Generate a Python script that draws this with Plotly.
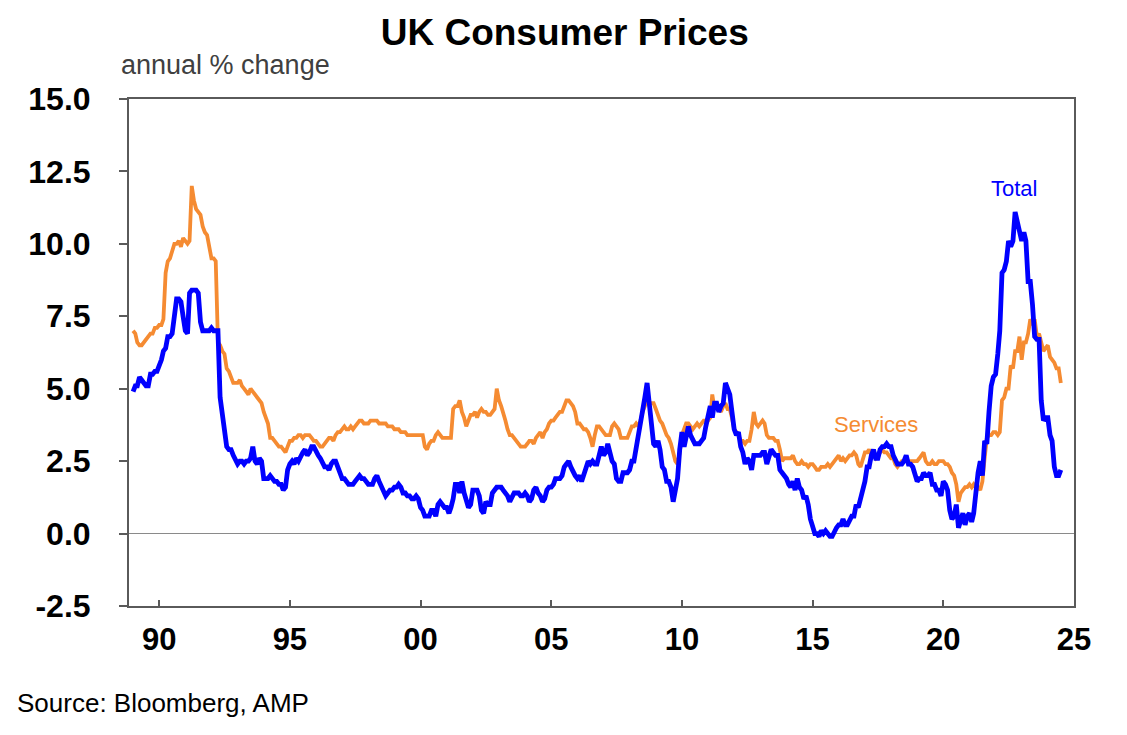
import pandas as pd
import plotly.graph_objects as go

# Monthly annual % change, Jan 1989 .. Jul 2024
total = [
    4.9, 5.1, 5.1, 5.4, 5.3, 5.2, 5.1, 5.1, 5.5, 5.5, 5.6, 5.6,   # 1989
    5.8, 6.0, 6.3, 6.4, 6.8, 6.8, 6.9, 7.6, 8.1, 8.1, 8.0, 7.5,   # 1990
    7.0, 6.9, 8.3, 8.4, 8.4, 8.4, 8.3, 7.3, 7.0, 7.0, 7.0, 7.0,   # 1991
    7.1, 7.0, 7.0, 7.0, 4.7, 4.0, 3.5, 3.0, 2.9, 2.9, 2.7, 2.5,   # 1992
    2.4, 2.5, 2.5, 2.4, 2.5, 2.5, 2.6, 3.0, 2.5, 2.4, 2.6, 2.5,   # 1993
    1.9, 1.9, 1.9, 2.0, 1.9, 1.8, 1.8, 1.7, 1.7, 1.5, 1.6, 2.2,   # 1994
    2.4, 2.5, 2.4, 2.6, 2.5, 2.7, 2.8, 2.9, 2.7, 2.8, 3.0, 3.0,   # 1995
    2.8, 2.7, 2.6, 2.4, 2.3, 2.3, 2.2, 2.4, 2.5, 2.5, 2.3, 2.2,   # 1996
    1.9, 1.9, 1.8, 1.7, 1.7, 1.7, 1.8, 1.9, 2.0, 1.9, 1.9, 1.8,   # 1997
    1.7, 1.7, 1.7, 1.9, 2.0, 1.8, 1.6, 1.4, 1.3, 1.4, 1.5, 1.5,   # 1998
    1.6, 1.6, 1.7, 1.6, 1.4, 1.4, 1.3, 1.3, 1.2, 1.2, 1.3, 1.2,   # 1999
    0.9, 0.8, 0.6, 0.6, 0.6, 0.8, 0.8, 0.6, 1.0, 1.1, 1.0, 0.9,   # 2000
    0.9, 0.7, 0.9, 1.2, 1.7, 1.7, 1.4, 1.8, 1.4, 1.2, 0.9, 1.0,   # 2001
    1.5, 1.5, 1.5, 1.3, 0.8, 0.7, 1.1, 1.0, 1.0, 1.4, 1.5, 1.6,   # 2002
    1.6, 1.6, 1.5, 1.4, 1.3, 1.1, 1.3, 1.4, 1.4, 1.4, 1.3, 1.3,   # 2003
    1.4, 1.3, 1.1, 1.2, 1.5, 1.6, 1.4, 1.3, 1.1, 1.2, 1.5, 1.6,   # 2004
    1.6, 1.7, 1.9, 1.9, 1.9, 2.0, 2.3, 2.4, 2.5, 2.3, 2.1, 2.0,   # 2005
    1.9, 2.0, 1.8, 2.0, 2.2, 2.5, 2.4, 2.5, 2.4, 2.4, 2.7, 3.0,   # 2006
    2.7, 2.8, 3.1, 2.8, 2.5, 2.4, 1.9, 1.8, 1.8, 2.1, 2.1, 2.1,   # 2007
    2.2, 2.5, 2.5, 3.0, 3.3, 3.8, 4.4, 4.7, 5.2, 4.5, 4.1, 3.1,   # 2008
    3.0, 3.2, 2.9, 2.3, 2.2, 1.8, 1.8, 1.6, 1.1, 1.5, 1.9, 2.9,   # 2009
    3.5, 3.0, 3.4, 3.7, 3.4, 3.2, 3.1, 3.1, 3.1, 3.2, 3.3, 3.7,   # 2010
    4.0, 4.4, 4.0, 4.5, 4.5, 4.2, 4.4, 4.5, 5.2, 5.0, 4.8, 4.2,   # 2011
    3.6, 3.4, 3.5, 3.0, 2.8, 2.4, 2.6, 2.5, 2.2, 2.7, 2.7, 2.7,   # 2012
    2.7, 2.8, 2.8, 2.4, 2.7, 2.9, 2.8, 2.7, 2.7, 2.2, 2.1, 2.0,   # 2013
    1.9, 1.7, 1.6, 1.8, 1.5, 1.9, 1.6, 1.5, 1.2, 1.3, 1.0, 0.5,   # 2014
    0.3, 0.0, 0.0, -0.1, 0.1, 0.0, 0.1, 0.0, -0.1, -0.1, 0.1, 0.2,  # 2015
    0.3, 0.3, 0.5, 0.3, 0.3, 0.5, 0.6, 0.6, 1.0, 0.9, 1.2, 1.6,   # 2016
    1.8, 2.3, 2.3, 2.7, 2.9, 2.6, 2.6, 2.9, 3.0, 3.0, 3.1, 3.0,   # 2017
    3.0, 2.7, 2.5, 2.4, 2.4, 2.4, 2.5, 2.7, 2.4, 2.4, 2.3, 2.1,   # 2018
    1.8, 1.9, 1.9, 2.1, 2.0, 2.0, 2.1, 1.7, 1.7, 1.5, 1.5, 1.3,   # 2019
    1.8, 1.7, 1.5, 0.8, 0.5, 0.6, 1.0, 0.2, 0.5, 0.7, 0.3, 0.6,   # 2020
    0.7, 0.4, 0.7, 1.5, 2.1, 2.5, 2.0, 3.2, 3.1, 4.2, 5.1, 5.4,   # 2021
    5.5, 6.2, 7.0, 9.0, 9.1, 9.4, 10.1, 9.9, 10.1, 11.1, 10.7, 10.5,  # 2022
    10.1, 10.4, 10.1, 8.7, 8.7, 7.9, 6.8, 6.7, 6.7, 4.6, 3.9, 4.0,   # 2023
    4.0, 3.4, 3.2, 2.3, 2.0, 2.0, 2.2,                           # 2024
]

services = [
    7.0, 6.9, 6.6, 6.5, 6.5, 6.6, 6.7, 6.8, 6.9, 6.9, 7.1, 7.1,   # 1989
    7.2, 7.2, 7.4, 9.0, 9.4, 9.5, 9.8, 10.0, 10.0, 10.1, 9.9, 10.2,  # 1990
    10.1, 10.0, 10.1, 12.0, 11.5, 11.2, 11.1, 11.0, 10.6, 10.4, 10.3, 9.9,  # 1991
    9.5, 9.5, 9.4, 6.6, 6.5, 6.3, 6.2, 5.7, 5.6, 5.4, 5.2, 5.2,   # 1992
    5.2, 5.3, 5.1, 5.0, 4.9, 4.8, 5.0, 4.9, 4.8, 4.7, 4.6, 4.5,   # 1993
    4.2, 4.0, 3.8, 3.3, 3.3, 3.2, 3.1, 3.0, 3.0, 2.9, 2.8, 3.0,   # 1994
    3.2, 3.2, 3.3, 3.3, 3.4, 3.4, 3.3, 3.4, 3.4, 3.4, 3.3, 3.2,   # 1995
    3.2, 3.1, 3.0, 3.0, 3.1, 3.2, 3.3, 3.3, 3.2, 3.4, 3.5, 3.5,   # 1996
    3.6, 3.7, 3.6, 3.6, 3.7, 3.6, 3.7, 3.8, 3.9, 3.9, 3.8, 3.8,   # 1997
    3.8, 3.9, 3.9, 3.9, 3.9, 3.8, 3.8, 3.8, 3.8, 3.7, 3.7, 3.7,   # 1998
    3.6, 3.6, 3.6, 3.5, 3.5, 3.5, 3.4, 3.4, 3.4, 3.4, 3.4, 3.4,   # 1999
    3.4, 3.4, 3.0, 2.9, 3.1, 3.2, 3.2, 3.4, 3.5, 3.4, 3.3, 3.3,   # 2000
    3.3, 3.3, 3.3, 4.3, 4.4, 4.4, 4.6, 4.2, 4.0, 3.7, 3.9, 4.1,   # 2001
    4.1, 4.2, 4.0, 4.2, 4.3, 4.2, 4.2, 4.1, 4.1, 4.2, 4.3, 5.0,   # 2002
    4.6, 4.4, 4.2, 3.9, 3.6, 3.4, 3.4, 3.3, 3.2, 3.1, 3.0, 3.0,   # 2003
    3.0, 3.1, 3.2, 3.2, 3.1, 3.3, 3.4, 3.5, 3.3, 3.5, 3.6, 3.8,   # 2004
    3.9, 3.9, 4.0, 4.1, 4.2, 4.2, 4.4, 4.6, 4.6, 4.5, 4.4, 4.2,   # 2005
    3.8, 3.8, 3.7, 3.6, 3.6, 3.5, 3.3, 3.0, 3.4, 3.7, 3.7, 3.6,   # 2006
    3.5, 3.4, 3.4, 3.4, 3.7, 3.8, 3.7, 3.6, 3.3, 3.3, 3.3, 3.3,   # 2007
    3.5, 3.7, 3.7, 3.8, 3.7, 3.9, 4.2, 4.4, 4.6, 4.5, 4.5, 4.5,   # 2008
    4.3, 4.1, 3.9, 3.8, 3.6, 3.4, 3.3, 3.1, 2.8, 2.5, 2.4, 2.8,   # 2009
    3.4, 3.6, 3.8, 3.8, 3.7, 3.6, 3.7, 3.8, 3.7, 3.8, 3.9, 3.9,   # 2010
    3.9, 4.0, 4.8, 4.3, 4.4, 4.3, 4.2, 4.4, 4.5, 4.3, 4.3, 4.0,   # 2011
    3.6, 3.5, 3.4, 3.2, 3.2, 3.1, 3.2, 3.2, 3.6, 4.2, 3.8, 3.7,   # 2012
    3.8, 3.9, 3.8, 3.4, 3.3, 3.3, 3.3, 3.2, 3.2, 2.9, 2.5, 2.6,   # 2013
    2.6, 2.6, 2.6, 2.7, 2.5, 2.4, 2.4, 2.5, 2.4, 2.4, 2.3, 2.4,   # 2014
    2.4, 2.3, 2.2, 2.2, 2.3, 2.3, 2.3, 2.4, 2.3, 2.4, 2.5, 2.6,   # 2015
    2.7, 2.5, 2.6, 2.5, 2.6, 2.7, 2.7, 2.8, 2.7, 2.4, 2.3, 2.6,   # 2016
    2.8, 2.8, 2.9, 2.7, 2.7, 2.6, 2.7, 2.8, 2.9, 2.8, 2.8, 2.7,   # 2017
    2.6, 2.6, 2.4, 2.3, 2.4, 2.5, 2.5, 2.6, 2.4, 2.5, 2.5, 2.5,   # 2018
    2.5, 2.6, 2.7, 2.8, 2.5, 2.4, 2.4, 2.5, 2.4, 2.4, 2.5, 2.5,   # 2019
    2.5, 2.4, 2.4, 2.3, 2.1, 2.0, 1.7, 1.1, 1.4, 1.5, 1.6, 1.6,   # 2020
    1.7, 1.6, 1.7, 1.6, 1.6, 1.5, 1.8, 2.6, 3.3, 3.4, 3.4, 3.5,   # 2021
    3.5, 3.4, 3.5, 4.6, 4.7, 5.0, 5.0, 5.8, 5.7, 6.3, 6.3, 6.8,   # 2022
    6.0, 6.6, 6.6, 6.9, 7.4, 7.2, 7.4, 6.8, 6.9, 6.6, 6.3, 6.4,   # 2023
    6.5, 6.1, 6.0, 5.9, 5.7, 5.7, 5.2,                           # 2024
]

start_month = "1989-01-01"
tick_years = [1990, 1995, 2000, 2005, 2010, 2015, 2020, 2025]
tick_labels = ["90", "95", "00", "05", "10", "15", "20", "25"]
y_ticks = [-2.5, 0.0, 2.5, 5.0, 7.5, 10.0, 12.5, 15.0]
y_tick_labels = ["-2.5", "0.0", "2.5", "5.0", "7.5", "10.0", "12.5", "15.0"]

dates_total = pd.date_range(start_month, periods=len(total), freq="MS")
dates_serv = pd.date_range(start_month, periods=len(services), freq="MS")

BLUE = "#0000FF"
ORANGE = "#F58B32"
FONT = "Arial, Liberation Sans, sans-serif"
AXIS = "#5a5a5a"

fig = go.Figure()
fig.add_trace(go.Scatter(x=dates_serv, y=services, mode="lines", name="Services",
                         line=dict(color=ORANGE, width=3.8)))
fig.add_trace(go.Scatter(x=dates_total, y=total, mode="lines", name="Total",
                         line=dict(color=BLUE, width=4.8)))

# page has an 8px body margin: plot area target is x 129..1074, y 99..606
fig.update_layout(
    width=1127, height=735,
    paper_bgcolor="white", plot_bgcolor="white",
    margin=dict(l=121, r=61, t=91, b=137),
    showlegend=False,
    font=dict(family=FONT, color="black"),
    title=dict(text="<b>UK Consumer Prices</b>", x=0.494, xref="container",
               xanchor="center", y=1 - 24 / 735, yanchor="middle",
               font=dict(size=37, family=FONT, color="black")),
)

fig.update_xaxes(
    type="date",
    range=["1988-11-05", "2025-01-01"],
    tickvals=[f"{y}-01-01" for y in tick_years],
    ticktext=tick_labels,
    ticks="inside", ticklen=6, tickwidth=1.5, tickcolor=AXIS,
    showline=True, linecolor=AXIS, linewidth=2, mirror=True,
    showgrid=False, zeroline=False,
    tickfont=dict(size=31, family=FONT, color="black", weight="bold"),
    ticklabelstandoff=5,
)
fig.update_yaxes(
    range=[-2.5, 15.0],
    tickvals=y_ticks, ticktext=y_tick_labels,
    ticks="outside", ticklen=8, tickwidth=1.5, tickcolor=AXIS,
    showline=True, linecolor=AXIS, linewidth=2, mirror=True,
    showgrid=False,
    zeroline=True, zerolinecolor="#8a8a8a", zerolinewidth=1.2,
    tickfont=dict(size=32, family=FONT, color="black", weight="bold"),
    ticklabelstandoff=22,
)

fig.add_annotation(text="annual % change", xref="paper", yref="paper",
                   x=-0.011, y=1.067, xanchor="left", yanchor="middle",
                   showarrow=False, font=dict(size=27, family=FONT, color="#404040"))
fig.add_annotation(text="Source: Bloomberg, AMP", xref="paper", yref="paper",
                   x=-0.121, y=-0.191, xanchor="left", yanchor="middle",
                   showarrow=False, font=dict(size=26, family=FONT, color="black"))
fig.add_annotation(text="Total", x="2022-09-15", y=11.9, xref="x", yref="y",
                   showarrow=False, font=dict(size=22, family=FONT, color=BLUE))
fig.add_annotation(text="Services", x="2017-06-01", y=3.76, xref="x", yref="y",
                   showarrow=False, font=dict(size=22, family=FONT, color=ORANGE))

fig.write_html("out.html")
